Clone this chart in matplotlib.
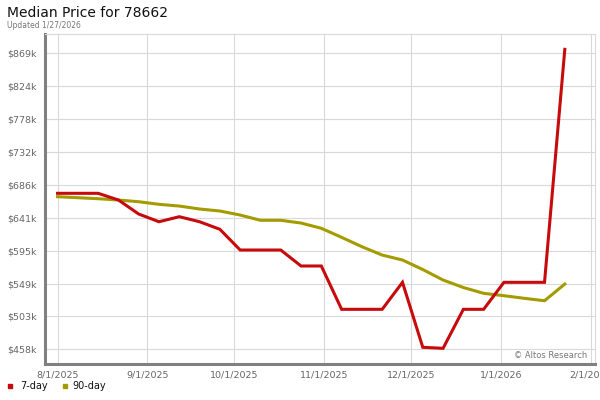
import matplotlib
matplotlib.use("Agg")
import matplotlib.pyplot as plt
import matplotlib.dates as mdates
from matplotlib.lines import Line2D
import datetime as dt

dates = ["2025-08-01", "2025-08-08", "2025-08-15", "2025-08-22", "2025-08-29",
         "2025-09-05", "2025-09-12", "2025-09-19", "2025-09-26", "2025-10-03",
         "2025-10-10", "2025-10-17", "2025-10-24", "2025-10-31", "2025-11-07",
         "2025-11-14", "2025-11-21", "2025-11-28", "2025-12-05", "2025-12-12",
         "2025-12-19", "2025-12-26", "2026-01-02", "2026-01-09", "2026-01-16",
         "2026-01-23"]
day7 = [674.4, 674.4, 674.4, 665.1, 645.6, 634.9, 641.9, 634.9, 624.4, 595.6,
        595.6, 595.6, 573.4, 573.4, 513.2, 513.2, 513.2, 550.7, 460.4, 459.0,
        513.2, 513.2, 550.7, 550.7, 550.7, 874.5]
day90 = [669.7, 668.3, 666.9, 665.1, 662.7, 659.1, 656.7, 652.6, 649.8, 644.2,
         636.9, 636.9, 633.1, 625.8, 613.2, 600.2, 588.6, 581.7, 568.5, 553.9,
         543.5, 535.4, 532.1, 528.5, 525.1, 548.3]
ytick_vals = [457.6, 503.32, 549.04, 594.76, 640.48, 686.2, 731.92, 777.64, 823.36, 869.08]
ytick_labels = ["$458k", "$503k", "$549k", "$595k", "$641k", "$686k", "$732k",
                "$778k", "$824k", "$869k"]
xtick_dates = ["2025-08-01", "2025-09-01", "2025-10-01", "2025-11-01",
               "2025-12-01", "2026-01-01", "2026-02-01"]
xtick_labels = ["8/1/2025", "9/1/2025", "10/1/2025", "11/1/2025", "12/1/2025",
                "1/1/2026", "2/1/2026"]

RED = "#c70a0c"
OLIVE = "#a39b00"

x = [dt.datetime.strptime(d, "%Y-%m-%d") for d in dates]
xt = [dt.datetime.strptime(d, "%Y-%m-%d") for d in xtick_dates]

fig = plt.figure(figsize=(6, 4), dpi=100)
ax = fig.add_axes([45/600, 1-364/400, 550/600, 330/400])

ax.plot(x, day90, color=OLIVE, lw=2.2, solid_joinstyle="round", zorder=3)
ax.plot(x, day7, color=RED, lw=2.2, solid_joinstyle="miter", zorder=4)

ax.set_xlim(dt.datetime(2025, 7, 27, 16), dt.datetime(2026, 2, 2, 10))
ax.set_ylim(437.2, 895.8)

ax.set_yticks(ytick_vals)
ax.set_yticklabels(ytick_labels)
ax.set_xticks(xt)
ax.set_xticklabels(xtick_labels)
ax.tick_params(axis="both", length=0, labelsize=6.8, labelcolor="#666666")
ax.tick_params(axis="y", pad=6)
ax.tick_params(axis="x", pad=5)

ax.grid(True, color="#d9d9d9", lw=0.8, zorder=0)
ax.set_axisbelow(True)
for s in ["top", "right"]:
    ax.spines[s].set_color("#d9d9d9")
    ax.spines[s].set_linewidth(0.8)
for s in ["left", "bottom"]:
    ax.spines[s].set_color("#808080")
    ax.spines[s].set_linewidth(2.2)

ax.text(0.985, 0.012, "\u00a9 Altos Research", transform=ax.transAxes,
        ha="right", va="bottom", fontsize=6, color="#777777")

fig.text(7/600, 1-13/400, "Median Price for 78662", fontsize=10, color="#111111",
         ha="left", va="center")
fig.text(7/600, 1-25/400, "Updated 1/27/2026", fontsize=5.5, color="#777777",
         ha="left", va="center")

# legend
fig.add_artist(Line2D([10/600], [1-386/400], marker="s", markersize=3.5,
                      color=RED, linestyle="none", transform=fig.transFigure))
fig.text(20/600, 1-386/400, "7-day", fontsize=7, color="#111111", ha="left", va="center")
fig.add_artist(Line2D([65/600], [1-386/400], marker="s", markersize=3.5,
                      color=OLIVE, linestyle="none", transform=fig.transFigure))
fig.text(72/600, 1-386/400, "90-day", fontsize=7, color="#111111", ha="left", va="center")

fig.savefig("out.png", dpi=100)
